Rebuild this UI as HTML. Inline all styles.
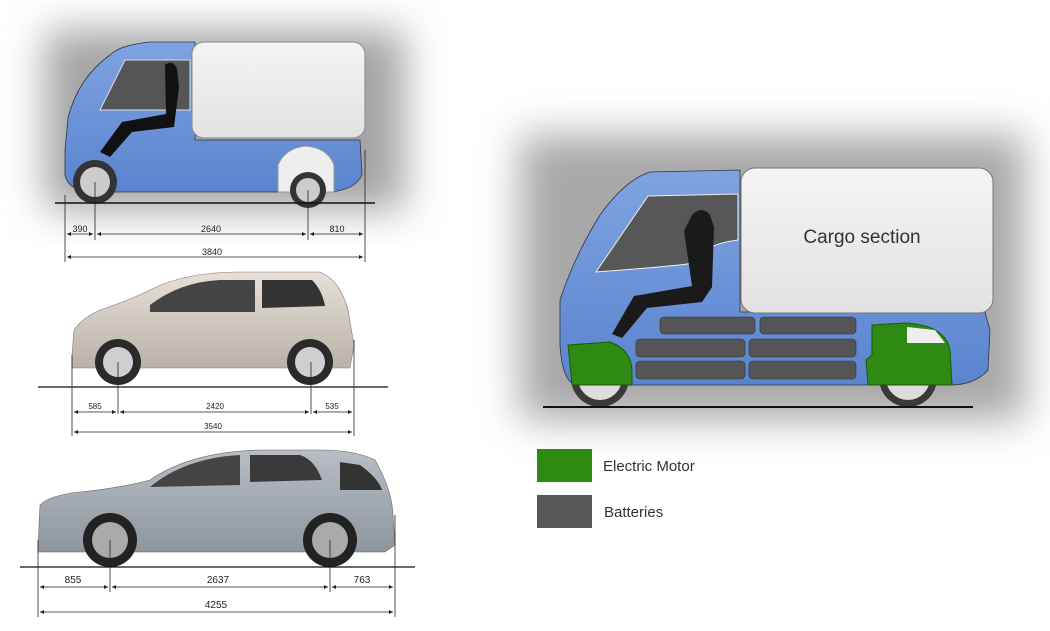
<!DOCTYPE html>
<html><head><meta charset="utf-8"><style>
html,body{margin:0;padding:0;background:#fff}
svg{display:block}
text{font-family:"Liberation Sans",sans-serif}
</style></head><body>
<svg width="1050" height="631" viewBox="0 0 1050 631" xmlns="http://www.w3.org/2000/svg">
<defs>
<linearGradient id="box" x1="0" y1="0" x2="0" y2="1"><stop offset="0" stop-color="#f4f4f4"/><stop offset="1" stop-color="#e2e2e2"/></linearGradient>
<linearGradient id="blue" x1="0" y1="0" x2="0" y2="1"><stop offset="0" stop-color="#7fa3e0"/><stop offset="1" stop-color="#5a84cf"/></linearGradient>
<linearGradient id="beige" x1="0" y1="0" x2="0" y2="1"><stop offset="0" stop-color="#e6e0d8"/><stop offset="1" stop-color="#b9b2a8"/></linearGradient>
<linearGradient id="silver" x1="0" y1="0" x2="0" y2="1"><stop offset="0" stop-color="#b8bec6"/><stop offset="1" stop-color="#8e959d"/></linearGradient>
<filter id="blur" x="-20%" y="-20%" width="140%" height="140%"><feGaussianBlur stdDeviation="20"/></filter>
<marker id="ar" viewBox="0 0 6 6" refX="6" refY="3" markerWidth="5" markerHeight="5" orient="auto-start-reverse"><path d="M0,0 L6,3 L0,6z" fill="#222"/></marker>
</defs>

<!-- shadows -->
<rect x="45" y="30" width="360" height="180" fill="#a4a4a4" filter="url(#blur)"/>
<rect x="520" y="135" width="505" height="285" fill="#a8a8a8" filter="url(#blur)"/>

<!-- ========== TOP LEFT VAN ========== -->
<g>
<path d="M65,150 L68,118 Q78,78 110,55 Q120,45 150,42 L195,42 L195,140 L360,140 L362,175 Q355,190 330,192 L90,192 Q68,190 65,175 Z" fill="url(#blue)" stroke="#334" stroke-width="0.8"/>
<path d="M100,110 L125,60 L190,60 L190,110 Z" fill="#555" stroke="#ddd"/>
<rect x="192" y="42" width="173" height="96" rx="12" fill="url(#box)" stroke="#888"/>
<path d="M165,65 q8,-6 12,4 l2,18 -5,40 -42,5 -22,25 -10,-5 22,-30 44,-8z" fill="#111"/>
<path d="M278,192 L278,165 Q285,148 306,146 Q328,148 334,165 L334,192 Z" fill="#eee" stroke="#999"/>
<circle cx="95" cy="182" r="22" fill="#333"/><circle cx="95" cy="182" r="15" fill="#ccc"/>
<circle cx="308" cy="190" r="18" fill="#333"/><circle cx="308" cy="190" r="12" fill="#ccc"/>
<line x1="55" y1="203" x2="375" y2="203" stroke="#111" stroke-width="1.5"/>
</g>
<g stroke="#222" stroke-width="0.8" fill="none">
<line x1="65" y1="195" x2="65" y2="262"/><line x1="95" y1="182" x2="95" y2="240"/>
<line x1="308" y1="190" x2="308" y2="240"/><line x1="365" y1="150" x2="365" y2="262"/>
<line x1="67" y1="234" x2="93" y2="234" marker-start="url(#ar)" marker-end="url(#ar)"/><line x1="97" y1="234" x2="306" y2="234" marker-start="url(#ar)" marker-end="url(#ar)"/><line x1="310" y1="234" x2="363" y2="234" marker-start="url(#ar)" marker-end="url(#ar)"/>
<line x1="67" y1="257" x2="363" y2="257" marker-start="url(#ar)" marker-end="url(#ar)"/>
</g>
<g font-size="9" fill="#222" text-anchor="middle">
<text x="80" y="232">390</text><text x="211" y="232">2640</text><text x="337" y="232">810</text><text x="212" y="255">3840</text>
</g>

<!-- ========== CAR 2 (up!) ========== -->
<g>
<path d="M72,355 L74,330 Q82,318 100,310 Q130,300 150,290 Q185,272 240,272 L320,272 Q340,280 348,310 L354,345 L350,368 L72,368 Z" fill="url(#beige)" stroke="#877" stroke-width="0.6"/>
<path d="M150,305 Q180,282 220,280 L255,280 L255,312 L150,312 Z" fill="#444"/>
<path d="M262,280 L312,280 Q322,290 325,306 L262,308 Z" fill="#333"/>
<circle cx="118" cy="362" r="23" fill="#2a2a2a"/><circle cx="118" cy="362" r="15" fill="#cfcfcf"/>
<circle cx="310" cy="362" r="23" fill="#2a2a2a"/><circle cx="310" cy="362" r="15" fill="#cfcfcf"/>
<line x1="38" y1="387" x2="388" y2="387" stroke="#111" stroke-width="1.2"/>
</g>
<g stroke="#222" stroke-width="0.8" fill="none">
<line x1="72" y1="355" x2="72" y2="436"/><line x1="118" y1="362" x2="118" y2="414"/>
<line x1="311" y1="362" x2="311" y2="414"/><line x1="354" y1="340" x2="354" y2="436"/>
<line x1="74" y1="412" x2="116" y2="412" marker-start="url(#ar)" marker-end="url(#ar)"/><line x1="120" y1="412" x2="309" y2="412" marker-start="url(#ar)" marker-end="url(#ar)"/><line x1="313" y1="412" x2="352" y2="412" marker-start="url(#ar)" marker-end="url(#ar)"/>
<line x1="74" y1="432" x2="352" y2="432" marker-start="url(#ar)" marker-end="url(#ar)"/>
</g>
<g font-size="8" fill="#222" text-anchor="middle">
<text x="95" y="409">585</text><text x="215" y="409">2420</text><text x="332" y="409">535</text><text x="213" y="429">3540</text>
</g>

<!-- ========== CAR 3 (Golf) ========== -->
<g>
<path d="M38,548 L40,505 Q50,495 80,492 Q120,488 150,480 Q190,452 260,450 L320,450 Q355,450 375,460 Q392,490 393,515 L395,545 L385,552 L38,552 Z" fill="url(#silver)" stroke="#666" stroke-width="0.6"/>
<path d="M150,487 Q185,458 240,455 L240,485 Z" fill="#444"/>
<path d="M250,455 L300,455 Q315,460 322,480 L250,482 Z" fill="#3a3a3a"/>
<path d="M340,462 L360,465 Q378,478 382,490 L340,490 Z" fill="#333"/>
<circle cx="110" cy="540" r="27" fill="#222"/><circle cx="110" cy="540" r="18" fill="#aaa"/>
<circle cx="330" cy="540" r="27" fill="#222"/><circle cx="330" cy="540" r="18" fill="#aaa"/>
<line x1="20" y1="567" x2="415" y2="567" stroke="#111" stroke-width="1.2"/>
</g>
<g stroke="#222" stroke-width="0.8" fill="none">
<line x1="38" y1="540" x2="38" y2="617"/><line x1="110" y1="540" x2="110" y2="592"/>
<line x1="330" y1="540" x2="330" y2="592"/><line x1="395" y1="515" x2="395" y2="617"/>
<line x1="40" y1="587" x2="108" y2="587" marker-start="url(#ar)" marker-end="url(#ar)"/><line x1="112" y1="587" x2="328" y2="587" marker-start="url(#ar)" marker-end="url(#ar)"/><line x1="332" y1="587" x2="393" y2="587" marker-start="url(#ar)" marker-end="url(#ar)"/>
<line x1="40" y1="612" x2="393" y2="612" marker-start="url(#ar)" marker-end="url(#ar)"/>
</g>
<g font-size="10" fill="#222" text-anchor="middle">
<text x="73" y="583">855</text><text x="218" y="583">2637</text><text x="362" y="583">763</text><text x="216" y="608">4255</text>
</g>

<!-- ========== BIG VAN ========== -->
<g>
<path d="M560,345 L560,300 Q575,255 600,215 Q625,180 650,172 L740,170 L740,312 L985,312 L990,330 L988,370 Q975,385 950,385 L575,385 Q562,380 560,345 Z" fill="url(#blue)" stroke="#334" stroke-width="0.8"/>
<path d="M596,272 L648,196 L738,194 L738,240 Q700,245 700,262 Q690,265 596,272 Z" fill="#575757" stroke="#eee" stroke-width="1"/>
<rect x="741" y="168" width="252" height="145" rx="14" fill="url(#box)" stroke="#777"/>
<text x="862" y="243" font-size="19" fill="#333" text-anchor="middle" font-family="DejaVu Sans, sans-serif">Cargo section</text>
<g fill="#555" stroke="#333" stroke-width="0.6">
<rect x="660" y="317" width="95" height="17" rx="4"/><rect x="760" y="317" width="96" height="17" rx="4"/>
<rect x="636" y="339" width="109" height="18" rx="4"/><rect x="749" y="339" width="107" height="18" rx="4"/>
<rect x="636" y="361" width="109" height="18" rx="4"/><rect x="749" y="361" width="107" height="18" rx="4"/>
</g>
<path d="M692,215 q10,-10 18,0 l4,12 -2,60 -10,15 -55,6 -25,30 -10,-4 22,-38 58,-10 -8,-55z" fill="#1a1a1a"/>
<circle cx="600" cy="378" r="29" fill="#3a3a3a"/><circle cx="600" cy="378" r="22" fill="#ddd"/>
<circle cx="908" cy="378" r="29" fill="#3a3a3a"/><circle cx="908" cy="378" r="22" fill="#ddd"/>
<path d="M568,345 L610,342 Q632,350 632,372 L632,385 L572,385 Z" fill="#2e8a12" stroke="#1a5a08"/>
<path d="M872,325 L905,323 Q945,325 950,350 L952,385 L868,385 L866,360 L872,355 Z" fill="#2e8a12" stroke="#1a5a08"/>
<path d="M907,327 L935,330 L945,343 L907,343 Z" fill="#eee"/>
<line x1="543" y1="407" x2="973" y2="407" stroke="#111" stroke-width="2"/>
</g>

<!-- legend -->
<rect x="537" y="449" width="55" height="33" fill="#2e8a12"/>
<rect x="537" y="495" width="55" height="33" fill="#575757"/>
<text x="603" y="471" font-size="15" fill="#333" font-family="DejaVu Sans, sans-serif">Electric Motor</text>
<text x="604" y="517" font-size="15" fill="#333" font-family="DejaVu Sans, sans-serif">Batteries</text>
</svg>
</body></html>
